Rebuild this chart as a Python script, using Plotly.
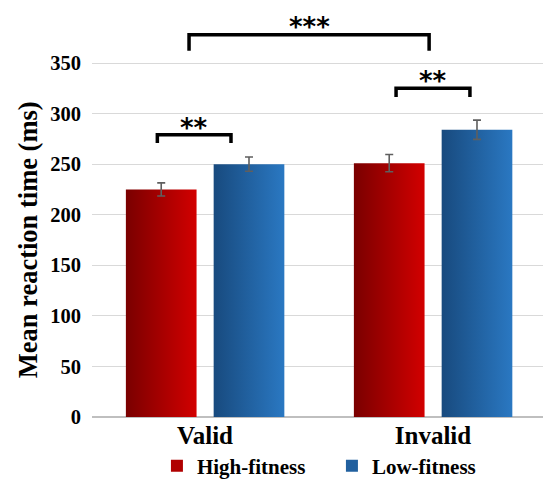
import plotly.graph_objects as go

# ---- data ----
conditions = ["Valid", "Invalid"]
groups = ["High-fitness", "Low-fitness"]
high_mean = [225, 251]
low_mean = [250, 284]
high_err = [6.5, 8.5]
low_err = [7.0, 9.5]
y_ticks = [0, 50, 100, 150, 200, 250, 300, 350]
y_title = "Mean reaction time (ms)"

# ---- style ----
FONT = "Liberation Serif"
red_scale = [[0, "#7a0000"], [1, "#d20000"]]
blue_scale = [[0, "#184a7e"], [1, "#2a78c2"]]
red_mid = "#b00000"
blue_mid = "#21609f"
bar_w = 0.31
offs = [-0.192, 0.193]

fig = go.Figure()

series = [(high_mean, high_err, red_scale, red_mid),
          (low_mean, low_err, blue_scale, blue_mid)]

# bars as gradient-filled polygons
for g_i, (means, errs, cs, mid) in enumerate(series):
    for c_i, v in enumerate(means):
        xc = c_i + offs[g_i]
        x0, x1 = xc - bar_w / 2, xc + bar_w / 2
        fig.add_trace(go.Scatter(
            x=[x0, x1, x1, x0, x0], y=[0, 0, v, v, 0],
            mode="lines", fill="toself",
            fillgradient=dict(type="horizontal", colorscale=cs),
            line=dict(width=0), showlegend=False, hoverinfo="skip"))

# error bars
for g_i, (means, errs, cs, mid) in enumerate(series):
    fig.add_trace(go.Scatter(
        x=[c_i + offs[g_i] for c_i in range(len(means))], y=means,
        mode="markers", marker=dict(color="rgba(0,0,0,0)", size=1),
        error_y=dict(type="data", array=errs, color="#5f5f5f",
                     thickness=1.6, width=4),
        showlegend=False, hoverinfo="skip"))

# legend entries
for g_i, (means, errs, cs, mid) in enumerate(series):
    fig.add_trace(go.Scatter(
        x=[None], y=[None], mode="markers", name=groups[g_i],
        marker=dict(symbol="square", size=11, color=mid)))

# significance brackets
def bracket(x0, x1, y, drop, label, ly):
    fig.add_shape(type="path",
                  path=f"M {x0},{y - drop} L {x0},{y} L {x1},{y} L {x1},{y - drop}",
                  xref="x", yref="y", line=dict(color="black", width=3.5))
    fig.add_annotation(x=(x0 + x1) / 2, y=ly, text=label, showarrow=False,
                       xref="x", yref="y",
                       font=dict(family="DejaVu Sans", size=26, color="black"))

bracket(-0.209, 0.114, 279, 8, "**", 286)
bracket(0.838, 1.162, 325, 8.5, "**", 332)
bracket(-0.07, 0.983, 378, 16, "***", 386)

# y-axis title (placed off-centre as in the reference)
fig.add_annotation(text=y_title, textangle=-90, xref="paper", yref="paper",
                   x=-0.143, y=0.425, xanchor="center", yanchor="middle",
                   showarrow=False,
                   font=dict(size=26.5, family=FONT, weight="bold", color="black"))

fig.update_layout(
    width=543, height=480,
    margin=dict(l=92, r=0, t=0, b=63, autoexpand=False),
    plot_bgcolor="white", paper_bgcolor="white",
    font=dict(family=FONT, color="black", weight="bold"),
    legend=dict(orientation="h", x=0.532, xanchor="center", y=-0.1175,
                yanchor="middle", bgcolor="rgba(0,0,0,0)",
                font=dict(size=21, family=FONT, weight="bold"),
                entrywidth=130, itemsizing="constant"),
    xaxis=dict(range=[-0.4956, 1.4825], tickvals=[0, 1], ticktext=conditions,
               showgrid=False, zeroline=False, showline=False,
               tickfont=dict(size=25, family=FONT, weight="bold"),
               ticks="", ticklabelstandoff=1),
    yaxis=dict(range=[0, 412.3], tickvals=y_ticks, showgrid=True,
               gridcolor="#d9d9d9", gridwidth=1,
               zeroline=True, zerolinecolor="#bfbfbf", zerolinewidth=1.5,
               showline=False, ticks="", ticklabelstandoff=10,
               tickfont=dict(size=20.5, family=FONT, weight="bold")),
)

fig.write_html("out.html")
